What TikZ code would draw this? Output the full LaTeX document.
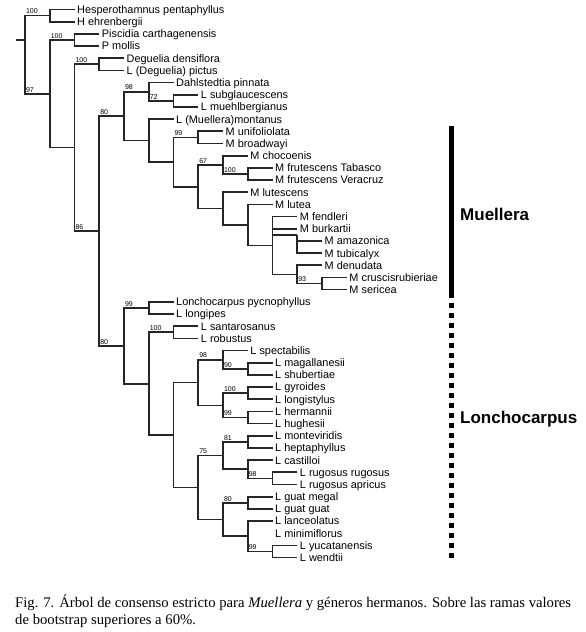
\documentclass[tikz,border=0pt]{standalone}
\usepackage{fontspec}
\setmainfont{Liberation Serif}
\newfontfamily\arialf{Liberation Sans}
\newcommand\X[1]{25+24.75*(#1)}
\newcommand\Y[1]{9.5+12.18*((#1)-1)}
\begin{document}
\begin{tikzpicture}[x=1pt,y=-1pt,
  br/.style={draw=black!85, line width=1.7pt},
  tip/.style={anchor=west, font=\arialf\fontsize{10.9}{12}\selectfont, inner xsep=2.5pt, inner ysep=0pt, text height=7.8pt, text depth=0pt},
  bs/.style={anchor=south west, font=\arialf\fontsize{7}{8}\selectfont, inner sep=0pt},
  grp/.style={anchor=west, font=\arialf\bfseries\fontsize{17}{20}\selectfont, inner sep=0pt},
  capt/.style={anchor=base west, font=\fontsize{14.7}{17}\selectfont, inner sep=0pt},
  bar/.style={line width=5pt, draw=black}
]
\fill[white] (0,0) rectangle (586,632);
\useasboundingbox (0,0) rectangle (586,632);

% internal nodes
\coordinate (root) at ({\X{0}},{\Y{3.5}});
\coordinate (rs) at (16,{\Y{3.5}});
\coordinate (A) at ({\X{1}},{\Y{1.5}});
\coordinate (B) at ({\X{1}},{\Y{7.9206}});
\coordinate (Pis) at ({\X{2}},{\Y{3.5}});
\coordinate (C) at ({\X{2}},{\Y{12.341}});
\coordinate (Deg) at ({\X{3}},{\Y{5.5}});
\coordinate (D) at ({\X{3}},{\Y{19.1826}});
\coordinate (E) at ({\X{4}},{\Y{9.7559}});
\coordinate (F) at ({\X{5}},{\Y{7.75}});
\coordinate (n72) at ({\X{6}},{\Y{8.5}});
\coordinate (G) at ({\X{5}},{\Y{11.7617}});
\coordinate (H) at ({\X{6}},{\Y{13.5234}});
\coordinate (uni) at ({\X{7}},{\Y{11.5}});
\coordinate (I) at ({\X{7}},{\Y{15.5469}});
\coordinate (J) at ({\X{8}},{\Y{13.75}});
\coordinate (fru) at ({\X{9}},{\Y{14.5}});
\coordinate (K) at ({\X{8}},{\Y{17.3438}});
\coordinate (Lu) at ({\X{9}},{\Y{18.6875}});
\coordinate (Mf) at ({\X{10}},{\Y{20.375}});
\coordinate (am) at ({\X{11}},{\Y{19.5}});
\coordinate (N) at ({\X{11}},{\Y{22.75}});
\coordinate (cr) at ({\X{12}},{\Y{23.5}});
\coordinate (O) at ({\X{4}},{\Y{28.6094}});
\coordinate (py) at ({\X{5}},{\Y{25.5}});
\coordinate (P) at ({\X{5}},{\Y{31.7188}});
\coordinate (sa) at ({\X{6}},{\Y{27.5}});
\coordinate (Q) at ({\X{6}},{\Y{35.9375}});
\coordinate (R) at ({\X{7}},{\Y{31.625}});
\coordinate (S) at ({\X{8}},{\Y{29.75}});
\coordinate (n90) at ({\X{9}},{\Y{30.5}});
\coordinate (T) at ({\X{8}},{\Y{33.5}});
\coordinate (gy) at ({\X{9}},{\Y{32.5}});
\coordinate (he) at ({\X{9}},{\Y{34.5}});
\coordinate (U) at ({\X{7}},{\Y{40.25}});
\coordinate (V) at ({\X{8}},{\Y{37.625}});
\coordinate (mo) at ({\X{9}},{\Y{36.5}});
\coordinate (W) at ({\X{9}},{\Y{38.75}});
\coordinate (ru) at ({\X{10}},{\Y{39.5}});
\coordinate (Xn) at ({\X{8}},{\Y{42.875}});
\coordinate (gu) at ({\X{9}},{\Y{41.5}});
\coordinate (Yn) at ({\X{9}},{\Y{44.25}});
\coordinate (yu) at ({\X{10}},{\Y{45.5}});

% tips
\node[tip] (t1) at ({\X{2}},{\Y{1}}) {Hesperothamnus pentaphyllus};
\node[tip] (t2) at ({\X{2}},{\Y{2}}) {H ehrenbergii};
\node[tip] (t3) at ({\X{3}},{\Y{3}}) {Piscidia carthagenensis};
\node[tip] (t4) at ({\X{3}},{\Y{4}}) {P mollis};
\node[tip] (t5) at ({\X{4}},{\Y{5}}) {Deguelia densiflora};
\node[tip] (t6) at ({\X{4}},{\Y{6}}) {L (Deguelia) pictus};
\node[tip] (t7) at ({\X{6}},{\Y{7}}) {Dahlstedtia pinnata};
\node[tip] (t8) at ({\X{7}},{\Y{8}}) {L subglaucescens};
\node[tip] (t9) at ({\X{7}},{\Y{9}}) {L muehlbergianus};
\node[tip] (t10) at ({\X{6}},{\Y{10}}) {L (Muellera)montanus};
\node[tip] (t11) at ({\X{8}},{\Y{11}}) {M unifoliolata};
\node[tip] (t12) at ({\X{8}},{\Y{12}}) {M broadwayi};
\node[tip] (t13) at ({\X{9}},{\Y{13}}) {M chocoenis};
\node[tip] (t14) at ({\X{10}},{\Y{14}}) {M frutescens Tabasco};
\node[tip] (t15) at ({\X{10}},{\Y{15}}) {M frutescens Veracruz};
\node[tip] (t16) at ({\X{9}},{\Y{16}}) {M lutescens};
\node[tip] (t17) at ({\X{10}},{\Y{17}}) {M lutea};
\node[tip] (t18) at ({\X{11}},{\Y{18}}) {M fendleri};
\node[tip] (t19) at ({\X{11}},{\Y{19}}) {M burkartii};
\node[tip] (t20) at ({\X{12}},{\Y{20}}) {M amazonica};
\node[tip] (t21) at ({\X{12}},{\Y{21}}) {M tubicalyx};
\node[tip] (t22) at ({\X{12}},{\Y{22}}) {M denudata};
\node[tip] (t23) at ({\X{13}},{\Y{23}}) {M cruscisrubieriae};
\node[tip] (t24) at ({\X{13}},{\Y{24}}) {M sericea};
\node[tip] (t25) at ({\X{6}},{\Y{25}}) {Lonchocarpus pycnophyllus};
\node[tip] (t26) at ({\X{6}},{\Y{26}}) {L longipes};
\node[tip] (t27) at ({\X{7}},{\Y{27}}) {L santarosanus};
\node[tip] (t28) at ({\X{7}},{\Y{28}}) {L robustus};
\node[tip] (t29) at ({\X{9}},{\Y{29}}) {L spectabilis};
\node[tip] (t30) at ({\X{10}},{\Y{30}}) {L magallanesii};
\node[tip] (t31) at ({\X{10}},{\Y{31}}) {L shubertiae};
\node[tip] (t32) at ({\X{10}},{\Y{32}}) {L gyroides};
\node[tip] (t33) at ({\X{10}},{\Y{33}}) {L longistylus};
\node[tip] (t34) at ({\X{10}},{\Y{34}}) {L hermannii};
\node[tip] (t35) at ({\X{10}},{\Y{35}}) {L hughesii};
\node[tip] (t36) at ({\X{10}},{\Y{36}}) {L monteviridis};
\node[tip] (t37) at ({\X{10}},{\Y{37}}) {L heptaphyllus};
\node[tip] (t38) at ({\X{10}},{\Y{38}}) {L castilloi};
\node[tip] (t39) at ({\X{11}},{\Y{39}}) {L rugosus rugosus};
\node[tip] (t40) at ({\X{11}},{\Y{40}}) {L rugosus apricus};
\node[tip] (t41) at ({\X{10}},{\Y{41}}) {L guat megal};
\node[tip] (t42) at ({\X{10}},{\Y{42}}) {L guat guat};
\node[tip] (t43) at ({\X{10}},{\Y{43}}) {L lanceolatus};
\node[tip] (t44) at ({\X{10}},{\Y{44}}) {L minimiflorus};
\node[tip] (t45) at ({\X{11}},{\Y{45}}) {L yucatanensis};
\node[tip] (t46) at ({\X{11}},{\Y{46}}) {L wendtii};

% branches
\draw[br] (rs) -- (root);
\draw[br] (root) |- (A);  \draw[br] (root) |- (B);
\draw[br] (A) |- (t1.west); \draw[br] (A) |- (t2.west);
\draw[br] (B) |- (Pis); \draw[br] (B) |- (C);
\draw[br] (Pis) |- (t3.west); \draw[br] (Pis) |- (t4.west);
\draw[br] (C) |- (Deg); \draw[br] (C) |- (D);
\draw[br] (Deg) |- (t5.west); \draw[br] (Deg) |- (t6.west);
\draw[br] (D) |- (E); \draw[br] (D) |- (O);
\draw[br] (E) |- (F); \draw[br] (E) |- (G);
\draw[br] (F) |- (t7.west); \draw[br] (F) |- (n72);
\draw[br] (n72) |- (t8.west); \draw[br] (n72) |- (t9.west);
\draw[br] (G) |- (t10.west); \draw[br] (G) |- (H);
\draw[br] (H) |- (uni); \draw[br] (H) |- (I);
\draw[br] (uni) |- (t11.west); \draw[br] (uni) |- (t12.west);
\draw[br] (I) |- (J); \draw[br] (I) |- (K);
\draw[br] (J) |- (t13.west); \draw[br] (J) |- (fru);
\draw[br] (fru) |- (t14.west); \draw[br] (fru) |- (t15.west);
\draw[br] (K) |- (t16.west); \draw[br] (K) |- (Lu);
\draw[br] (Lu) |- (t17.west); \draw[br] (Lu) |- (Mf);
\draw[br] (Mf) |- (t18.west); \draw[br] (Mf) |- (t19.west);
\draw[br] (Mf) |- (am); \draw[br] (Mf) |- (N);
\draw[br] (am) |- (t20.west); \draw[br] (am) |- (t21.west);
\draw[br] (N) |- (t22.west); \draw[br] (N) |- (cr);
\draw[br] (cr) |- (t23.west); \draw[br] (cr) |- (t24.west);
\draw[br] (O) |- (py); \draw[br] (O) |- (P);
\draw[br] (py) |- (t25.west); \draw[br] (py) |- (t26.west);
\draw[br] (P) |- (sa); \draw[br] (P) |- (Q);
\draw[br] (sa) |- (t27.west); \draw[br] (sa) |- (t28.west);
\draw[br] (Q) |- (R); \draw[br] (Q) |- (U);
\draw[br] (R) |- (S); \draw[br] (R) |- (T);
\draw[br] (S) |- (t29.west); \draw[br] (S) |- (n90);
\draw[br] (n90) |- (t30.west); \draw[br] (n90) |- (t31.west);
\draw[br] (T) |- (gy); \draw[br] (T) |- (he);
\draw[br] (gy) |- (t32.west); \draw[br] (gy) |- (t33.west);
\draw[br] (he) |- (t34.west); \draw[br] (he) |- (t35.west);
\draw[br] (U) |- (V); \draw[br] (U) |- (Xn);
\draw[br] (V) |- (mo); \draw[br] (V) |- (W);
\draw[br] (mo) |- (t36.west); \draw[br] (mo) |- (t37.west);
\draw[br] (W) |- (t38.west); \draw[br] (W) |- (ru);
\draw[br] (ru) |- (t39.west); \draw[br] (ru) |- (t40.west);
\draw[br] (Xn) |- (gu); \draw[br] (Xn) |- (Yn);
\draw[br] (gu) |- (t41.west); \draw[br] (gu) |- (t42.west);
\draw[br] (Yn) |- (t43.west); \draw[br] (Yn) |- (yu);
\draw[br] (yu) |- (t45.west); \draw[br] (yu) |- (t46.west);

% bootstrap values
\node[bs] (b1) at ({\X{0}+0.8},{\Y{1.5}-1.5}) {100};
\node[bs] (b2) at ({\X{0}+0.8},{\Y{7.9206}-1.5}) {97};
\node[bs] (b3) at ({\X{1}+0.8},{\Y{3.5}-1.5}) {100};
\node[bs] (b4) at ({\X{2}+0.8},{\Y{5.5}-1.5}) {100};
\node[bs] (b5) at ({\X{2}+0.8},{\Y{19.1826}-1.5}) {86};
\node[bs] (b6) at ({\X{3}+0.8},{\Y{9.7559}-1.5}) {80};
\node[bs] (b7) at ({\X{4}+0.8},{\Y{7.75}-1.5}) {98};
\node[bs] (b8) at ({\X{5}+0.8},{\Y{8.5}-1.5}) {72};
\node[bs] (b9) at ({\X{6}+0.8},{\Y{11.5}-1.5}) {99};
\node[bs] (b10) at ({\X{7}+0.8},{\Y{13.75}-1.5}) {67};
\node[bs] (b11) at ({\X{8}+0.8},{\Y{14.5}-1.5}) {100};
\node[bs] (b12) at ({\X{11}+0.8},{\Y{23.5}-1.5}) {93};
\node[bs] (b13) at ({\X{3}+0.8},{\Y{28.6094}-1.5}) {80};
\node[bs] (b14) at ({\X{4}+0.8},{\Y{25.5}-1.5}) {99};
\node[bs] (b15) at ({\X{5}+0.8},{\Y{27.5}-1.5}) {100};
\node[bs] (b16) at ({\X{7}+0.8},{\Y{29.75}-1.5}) {98};
\node[bs] (b17) at ({\X{8}+0.8},{\Y{30.5}-1.5}) {90};
\node[bs] (b18) at ({\X{8}+0.8},{\Y{32.5}-1.5}) {100};
\node[bs] (b19) at ({\X{8}+0.8},{\Y{34.5}-1.5}) {99};
\node[bs] (b20) at ({\X{8}+0.8},{\Y{36.5}-1.5}) {81};
\node[bs] (b21) at ({\X{7}+0.8},{\Y{37.625}-1.5}) {75};
\node[bs] (b22) at ({\X{9}+0.8},{\Y{39.5}-1.5}) {98};
\node[bs] (b23) at ({\X{8}+0.8},{\Y{41.5}-1.5}) {80};
\node[bs] (b24) at ({\X{9}+0.8},{\Y{45.5}-1.5}) {99};

% group bars
\coordinate (mtop) at (451.5,126);
\coordinate (mbot) at (451.5,298);
\coordinate (ltop) at (451.5,303);
\coordinate (lbot) at (451.5,558);
\draw[bar] (mtop) -- (mbot);
\draw[bar, dash pattern=on 5pt off 5pt] (ltop) -- (lbot);
\node[grp] (gM) at (460,214) {Muellera};
\node[grp] (gL) at (460,419) {Lonchocarpus};

% caption
\node[capt] (cap1) at (15,607) {Fig. 7. Árbol de consenso estricto para \textit{Muellera} y géneros hermanos. Sobre las ramas valores};
\node[capt] (cap2) at (15,624) {de bootstrap superiores a 60\%.};
\end{tikzpicture}
\end{document}
